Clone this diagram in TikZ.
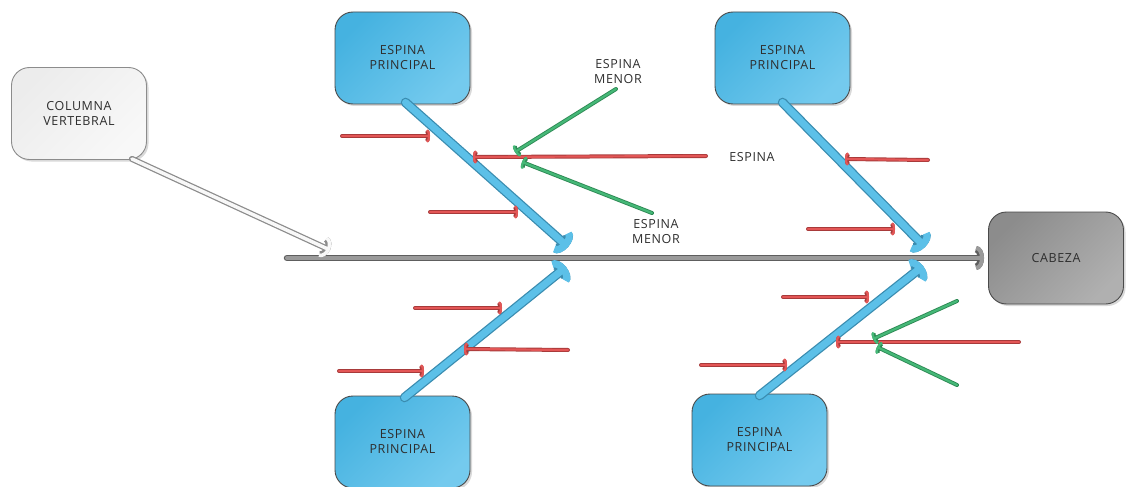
\documentclass[tikz,border=0pt]{standalone}
\usepackage{fontspec}
\setmainfont{Open Sans}[LetterSpace=5]
\usetikzlibrary{arrows.meta,shadows}

\definecolor{txt}{HTML}{2E2E2E}
\definecolor{boxEdge}{HTML}{4A4A4A}
\definecolor{blueA}{HTML}{45B2E0}
\definecolor{blueB}{HTML}{74CAEE}
\definecolor{boneFill}{HTML}{5CC0E8}
\definecolor{boneEdge}{HTML}{3A8CB0}
\definecolor{grayA}{HTML}{8C8C8C}
\definecolor{grayB}{HTML}{B0B0B0}
\definecolor{paleA}{HTML}{ECECEC}
\definecolor{paleB}{HTML}{F8F8F8}
\definecolor{spineFill}{HTML}{9A9A9A}
\definecolor{spineEdge}{HTML}{5E5E5E}
\definecolor{redFill}{HTML}{E35656}
\definecolor{redEdge}{HTML}{A83A3A}
\definecolor{greenFill}{HTML}{45B877}
\definecolor{greenEdge}{HTML}{2E8A55}

\tikzset{
  box/.style={rounded corners=18pt, draw=boxEdge, line width=0.9pt,
    minimum width=135pt, minimum height=92pt, align=center, text=txt,
    font=\fontsize{12.5}{15}\selectfont,
    drop shadow={opacity=0.3, shadow xshift=2pt, shadow yshift=-2pt}},
  principal/.style={box, top color=blueA, bottom color=blueB, shading angle=45},
  headbox/.style={box, top color=grayA, bottom color=grayB, shading angle=45},
  tailbox/.style={box, top color=paleA, bottom color=paleB, shading angle=45, draw=grayA},
  label/.style={align=center, text=txt, font=\fontsize{12.5}{15}\selectfont},
  spine/.style={line cap=round, draw=spineEdge, line width=6.5pt,
    -{Arc Barb[length=8pt,width=24pt]},
    postaction={draw=spineFill, line width=4pt}},
  tail/.style={line cap=round, draw=grayA, line width=6pt,
    -{Arc Barb[length=8pt,width=22pt]},
    postaction={draw=paleB, line width=3.5pt}},
  bone/.style={line cap=round, draw=boneEdge, line width=9.5pt,
    -{Arc Barb[length=9pt,width=28pt]},
    postaction={draw=boneFill, line width=7pt}},
  cause/.style={line cap=round, draw=redEdge, line width=4pt,
    -{Arc Barb[length=3pt,width=14pt]},
    postaction={draw=redFill, line width=2.2pt}},
  minor/.style={line cap=round, draw=greenEdge, line width=4pt,
    -{Arc Barb[length=3pt,width=14pt]},
    postaction={draw=greenFill, line width=2.2pt}},
}

\begin{document}
\begin{tikzpicture}[x=1pt,y=-1pt]
\useasboundingbox (0,0) rectangle (1128,487);

% boxes
\node[tailbox]   (col) at (79,113.5)  {COLUMNA\\VERTEBRAL};
\node[principal] (p1)  at (402.5,58)  {ESPINA\\PRINCIPAL};
\node[principal] (p2)  at (782.5,58)  {ESPINA\\PRINCIPAL};
\node[principal] (p3)  at (402.5,442) {ESPINA\\PRINCIPAL};
\node[principal] (p4)  at (759.5,440) {ESPINA\\PRINCIPAL};
\node[headbox]   (cab) at (1056,258)  {CABEZA};

% text labels
\node[label] (m1) at (618,72)  {ESPINA\\MENOR};
\node[label] (e1) at (752,157) {ESPINA};
\node[label] (m2) at (656,232) {ESPINA\\MENOR};

% spine and its ends
\coordinate (s0) at (287,258);
\coordinate (s1) at (984,258);
\coordinate (t1) at (330,250);
\coordinate (b1) at (568,247);
\coordinate (b2) at (925,247);
\coordinate (b3) at (566,267);
\coordinate (b4) at (923,266);

\draw[spine] (s0) -- (s1);
\draw[tail] ([xshift=-15pt,yshift=1pt]col.south east) -- (t1);

% main bones
\draw[bone] ([xshift=3pt,yshift=2pt]p1.south) -- (b1);
\draw[bone] ([yshift=2pt]p2.south) -- (b2);
\draw[bone] ([xshift=2pt,yshift=-2pt]p3.north) -- (b3);
\draw[bone] ([xshift=0pt,yshift=-2pt]p4.north) -- (b4);

% causes on the upper-left bone
\coordinate (r1a) at (342,136); \coordinate (r1b) at (430,136);
\coordinate (r2a) at (706,156); \coordinate (r2b) at (473,157);
\coordinate (r3a) at (430,212); \coordinate (r3b) at (518,212);
\draw[cause] (r1a) -- (r1b);
\draw[cause] (r2a) -- (r2b);
\draw[cause] (r3a) -- (r3b);

% minor causes on the long cause
\coordinate (g1a) at (616,89);  \coordinate (g1b) at (515,152);
\coordinate (g2a) at (652,213); \coordinate (g2b) at (522,162);
\draw[minor] (g1a) -- (g1b);
\draw[minor] (g2a) -- (g2b);

% causes on the upper-right bone
\coordinate (r4a) at (928,160); \coordinate (r4b) at (845,159);
\coordinate (r5a) at (808,229); \coordinate (r5b) at (895,229);
\draw[cause] (r4a) -- (r4b);
\draw[cause] (r5a) -- (r5b);

% causes on the lower-left bone
\coordinate (r6a) at (415,308); \coordinate (r6b) at (502,308);
\coordinate (r7a) at (568,350); \coordinate (r7b) at (464,349);
\coordinate (r8a) at (339,371); \coordinate (r8b) at (424,371);
\draw[cause] (r6a) -- (r6b);
\draw[cause] (r7a) -- (r7b);
\draw[cause] (r8a) -- (r8b);

% causes on the lower-right bone
\coordinate (r9a)  at (783,297);  \coordinate (r9b)  at (869,297);
\coordinate (r10a) at (1019,342); \coordinate (r10b) at (836,342);
\coordinate (r11a) at (701,365);  \coordinate (r11b) at (787,365);
\draw[cause] (r9a) -- (r9b);
\draw[cause] (r10a) -- (r10b);
\draw[cause] (r11a) -- (r11b);

\coordinate (g3a) at (957,301); \coordinate (g3b) at (873,339);
\coordinate (g4a) at (957,385); \coordinate (g4b) at (877,347);
\draw[minor] (g3a) -- (g3b);
\draw[minor] (g4a) -- (g4b);
\end{tikzpicture}
\end{document}
